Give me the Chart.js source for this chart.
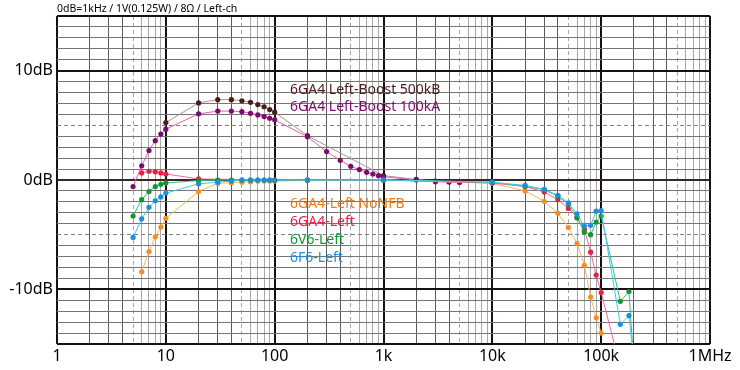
<!DOCTYPE html>
<html><head><meta charset="utf-8">
<script src="https://cdn.jsdelivr.net/npm/chart.js@4.4.1/dist/chart.umd.min.js"></script>
<style>html,body{margin:0;padding:0;background:#fff;overflow:hidden}</style>
</head><body>
<canvas id="c" width="740" height="370"></canvas>
<script>
// ---- text ----
const chartTitle = '0dB=1kHz / 1V(0.125W) / 8Ω / Left-ch';
const xTickText = {1:'1',10:'10',100:'100',1000:'1k',10000:'10k',100000:'100k',1000000:'1MHz'};
const yTickText = {'10':'10dB','0':'0dB','-10':'-10dB'};

// ---- series: 6GA4 Left-Boost 500kB ----
const boostB_f  = [10,20,30,40,50,60,70,80,90,100,200,1000,2000,3000,4000,5000];
const boostB_db = [5.25,7.05,7.35,7.35,7.25,7.1,6.9,6.7,6.45,6.2,4.05,0.4,0.05,-0.1,-0.15,-0.2];

// ---- series: 6GA4 Left-Boost 100kA ----
const boostA_f  = [5,6,7,8,9,10,20,30,40,50,60,70,80,90,100,200,300,400,500,600,700,800,900,1000,2000,3000,4000,5000];
const boostA_db = [-0.6,1.3,2.7,3.6,4.2,4.65,6.05,6.3,6.3,6.25,6.1,5.95,5.8,5.65,5.5,3.95,2.6,1.8,1.25,0.95,0.7,0.55,0.4,0.3,0,-0.15,-0.18,-0.2];

// ---- series: 6GA4-Left NoNFB ----
const nonfb_f  = [6,7,8,9,10,20,30,40,50,60,70,80,90,100,200,1000,10000,20000,30000,40000,50000,60000,70000,80000,90000,100000];
const nonfb_db = [-8.4,-6.55,-5.2,-4.3,-3.5,-1.05,-0.3,-0.25,-0.2,-0.15,-0.1,-0.1,-0.1,-0.1,-0.05,0,-0.3,-1.0,-1.95,-3.05,-4.35,-5.8,-7.8,-10.7,-12.6,-14.0];

// ---- series: 6GA4-Left ----
const ga4_f  = [6,7,8,9,10,20,100,200,1000,10000,20000,30000,40000,50000,60000,70000,80000,90000,100000,200000];
const ga4_db = [0.65,0.8,0.75,0.65,0.55,0.1,0,0,0,-0.28,-0.6,-1.1,-1.8,-2.6,-3.4,-4.5,-6.6,-8.7,-10.3,-22];

// ---- series: 6V6-Left ----
const v6_f  = [5,6,7,8,9,10,20,30,40,50,60,70,80,90,100,200,1000,10000,20000,30000,40000,50000,60000,70000,80000,90000,100000,150000,180000,200000];
const v6_db = [-3.3,-1.8,-1.05,-0.6,-0.4,-0.27,-0.05,0,0,0,0,0,0,0,0,0,0,-0.2,-0.57,-0.9,-1.48,-2.2,-3.47,-4.75,-5.0,-3.85,-3.3,-11.1,-10.2,-17];

// ---- series: 6F6-Left ----
const f6_f  = [5,6,7,8,9,10,20,30,40,50,60,70,80,90,100,200,1000,10000,20000,30000,40000,50000,60000,70000,80000,90000,100000,150000,180000,200000];
const f6_db = [-5.25,-3.55,-2.5,-1.9,-1.55,-1.2,-0.35,-0.2,-0.1,0,0,0,0,0,0,0,0,-0.2,-0.5,-0.85,-1.4,-2.1,-3.1,-4.2,-4.15,-2.85,-2.8,-13.2,-12.4,-16.5];

const pts = (f, d) => f.map((v, i) => ({x: v, y: d[i]}));
const ds = (label, f, d, line, dot) => ({
  label, data: pts(f, d), borderColor: line, borderWidth: 1,
  pointBackgroundColor: dot, pointBorderColor: dot, pointBorderWidth: 0,
  pointRadius: 2.6, tension: 0, fill: false
});

// grid helpers
const mant = v => { const e = Math.floor(Math.log10(v) + 1e-9); return Math.round(v / Math.pow(10, e)); };
const xTicks = [];
for (let e = 0; e < 6; e++) for (let m = 1; m <= 9; m++) xTicks.push(m * Math.pow(10, e));
xTicks.push(1e6);
const yTicks = [];
for (let v = -15; v <= 15; v++) yTicks.push(v);

const FONT = "'Noto Sans', 'DejaVu Sans', sans-serif";

const textPlugin = {
  id: 'texts',
  afterDraw(chart) {
    const c = chart.ctx;
    c.save();
    c.textBaseline = 'middle';
    c.textAlign = 'left';
    c.fillStyle = '#000';
    c.font = '10.5px ' + FONT;
    c.fillText(chartTitle, 57, 9);
    c.font = '14px ' + FONT;
    c.fillStyle = '#4a1c1c'; c.fillText('6GA4 Left-Boost 500kB', 290, 90);
    c.fillStyle = '#7d0b6e'; c.fillText('6GA4 Left-Boost 100kA', 290, 107.5);
    c.fillStyle = '#f27a12'; c.fillText('6GA4-Left NoNFB', 290, 204.5);
    c.fillStyle = '#ea1e46'; c.fillText('6GA4-Left', 290, 222);
    c.fillStyle = '#14962c'; c.fillText('6V6-Left', 290, 240);
    c.fillStyle = '#1a8fe0'; c.fillText('6F6-Left', 290, 258);
    c.restore();
  }
};

new Chart(document.getElementById('c'), {
  type: 'line',
  data: {
    datasets: [
      ds('6F6-Left', f6_f, f6_db, '#3cc8f0', '#1a8fe0'),
      ds('6V6-Left', v6_f, v6_db, '#3cc07a', '#14962c'),
      ds('6GA4-Left', ga4_f, ga4_db, '#f0689c', '#ea1e46'),
      ds('6GA4-Left NoNFB', nonfb_f, nonfb_db, '#ffb060', '#ff8a1e'),
      ds('6GA4 Left-Boost 100kA', boostA_f, boostA_db, '#e85cb8', '#7d0b6e'),
      ds('6GA4 Left-Boost 500kB', boostB_f, boostB_db, '#b09090', '#4a1c1c')
    ]
  },
  options: {
    responsive: false,
    animation: false,
    devicePixelRatio: 1,
    layout: {padding: {top: 16, right: 30, left: 0, bottom: 0}},
    plugins: {legend: {display: false}, tooltip: {enabled: false}, title: {display: false}},
    scales: {
      x: {
        type: 'logarithmic', min: 1, max: 1e6,
        afterBuildTicks: s => { s.ticks = xTicks.map(v => ({value: v})); },
        afterFit: s => { s.height = 26; },
        ticks: {
          autoSkip: false, maxRotation: 0, padding: 3,
          color: '#000', font: {family: FONT, size: 16},
          callback: v => xTickText[v] || ''
        },
        grid: {
          drawTicks: false,
          color: c => { const v = c.tick ? c.tick.value : 1; const m = mant(v);
            if (m === 1) return '#1a1010'; if (m === 5) return '#a8a8a8'; if (m < 5) return '#5a5a5a'; return '#a8a8a8'; },
          lineWidth: c => { const v = c.tick ? c.tick.value : 1; return mant(v) === 1 ? 2 : 1; }
        },
        border: {display: false, dash: c => (c.tick && mant(c.tick.value) === 5) ? [4, 3] : []}
      },
      y: {
        type: 'linear', min: -15, max: 15,
        afterBuildTicks: s => { s.ticks = yTicks.map(v => ({value: v})); },
        afterFit: s => { s.width = 57; },
        ticks: {
          autoSkip: false, padding: 4, color: '#000', font: {family: FONT, size: 16},
          callback: v => yTickText[String(v)] || ''
        },
        grid: {
          drawTicks: false,
          color: c => { const v = c.tick ? c.tick.value : 0;
            if (v === 0) return '#3a2626'; if (Math.abs(v) % 10 === 0 || Math.abs(v) === 15) return '#1a1010';
            if (Math.abs(v) === 5) return '#808080'; return '#767676'; },
          lineWidth: c => { const v = c.tick ? c.tick.value : 0; return (v % 10 === 0 || Math.abs(v) === 15) ? 2 : 1; }
        },
        border: {display: false, dash: c => (c.tick && Math.abs(c.tick.value) === 5) ? [4, 3] : []}
      }
    }
  },
  plugins: [textPlugin]
});
</script>
</body></html>
